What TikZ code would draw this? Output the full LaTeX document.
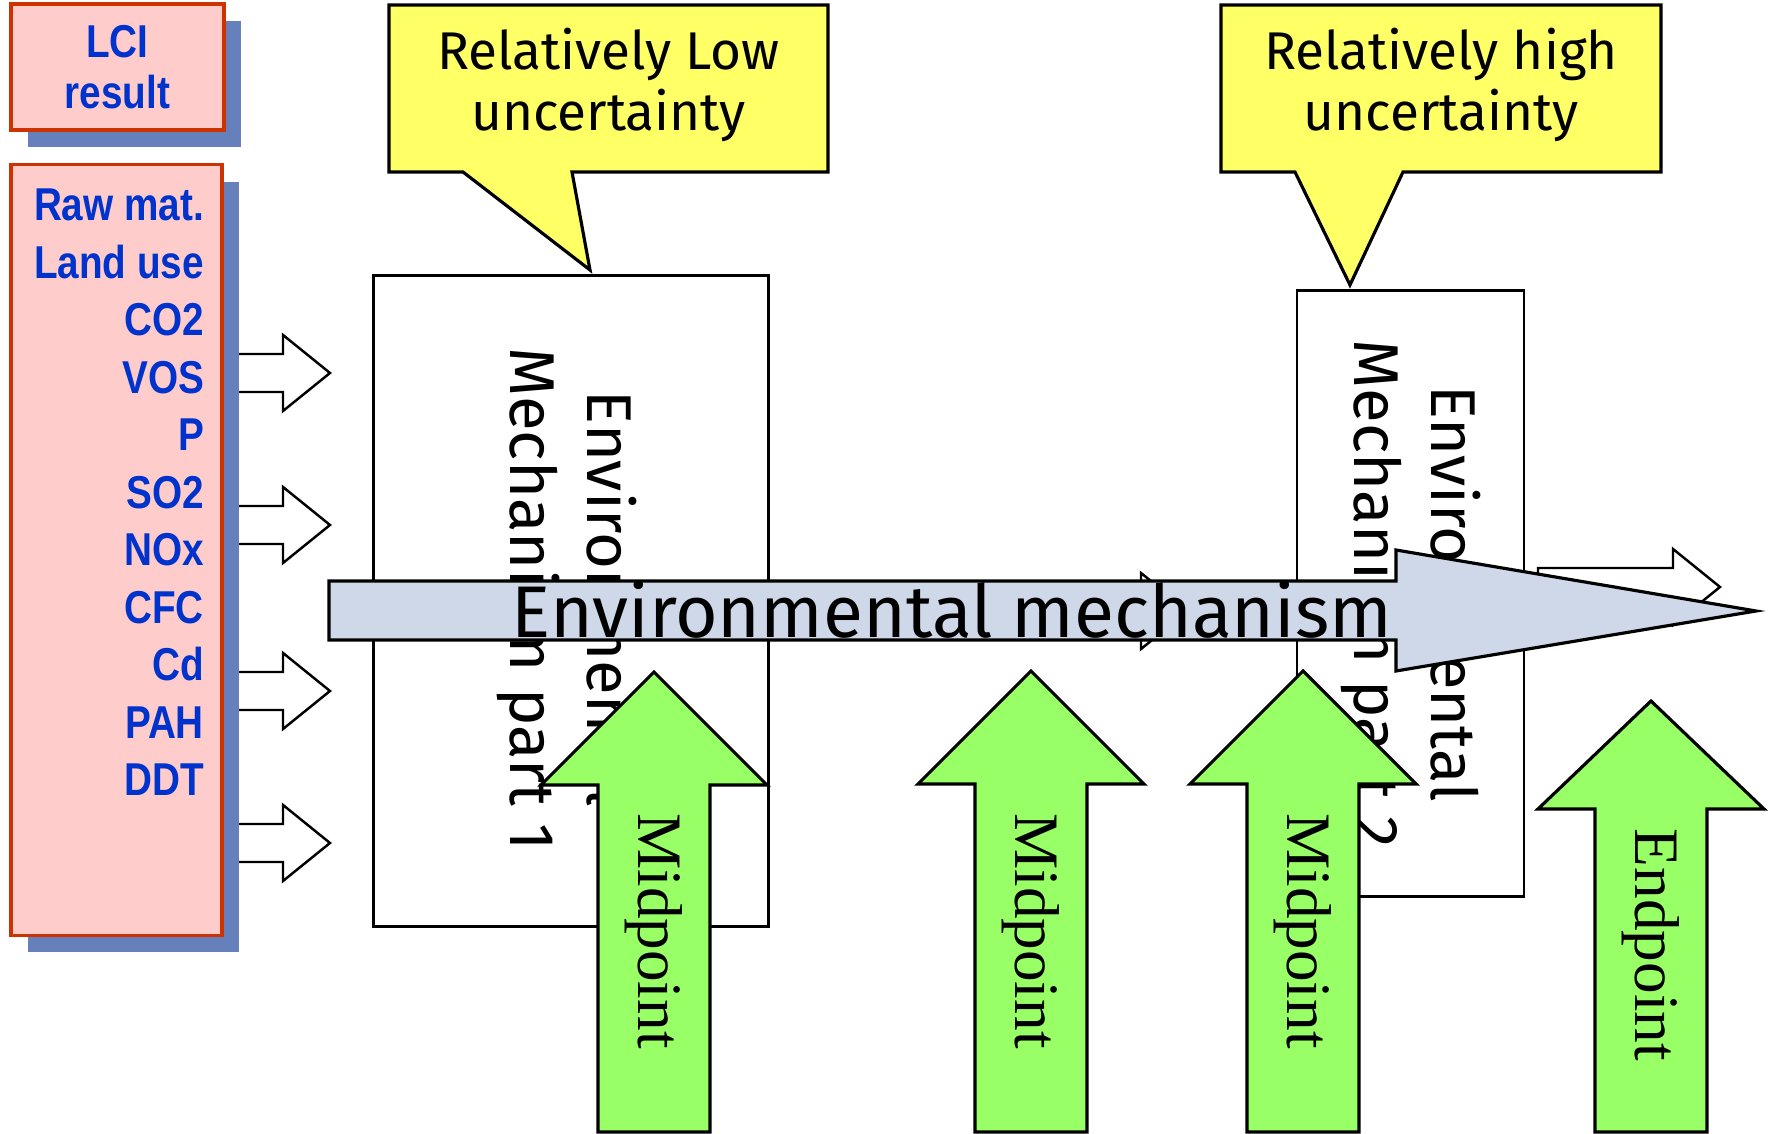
\documentclass[tikz,border=0pt]{standalone}
\usepackage{fontspec}
\setmainfont{Fira Sans}
\newfontfamily\lcifont{Liberation Sans}[FakeStretch=0.84]
\newfontfamily\pointfont{Liberation Serif}
\usetikzlibrary{shadows,positioning}

\definecolor{lcipink}{HTML}{FFCCCC}
\definecolor{lcired}{HTML}{CC3300}
\definecolor{lcishadow}{HTML}{6680BB}
\definecolor{lciblue}{HTML}{0033CC}
\definecolor{noteyellow}{HTML}{FFFF66}
\definecolor{mechgrey}{HTML}{CFD8E8}
\definecolor{pointgreen}{HTML}{99FF66}

% white block arrow: start x, tip x, centre y
\newcommand{\flowarrow}[3]{%
  \draw[flowshape] (#1,#3-19) -- (#2-47,#3-19) -- (#2-47,#3-38) -- (#2,#3)
    -- (#2-47,#3+38) -- (#2-47,#3+19) -- (#1,#3+19) -- cycle}
% green up arrow: centre x, tip y, head height
\newcommand{\pointarrow}[3]{%
  \draw[pointshape] (#1,#2) -- (#1+113,#2+#3) -- (#1+56,#2+#3) -- (#1+56,1132)
    -- (#1-56,1132) -- (#1-56,#2+#3) -- (#1-113,#2+#3) -- cycle}

\begin{document}
\begin{tikzpicture}
    [x=0.01cm, y=-0.01cm,
    lcibox/.style={draw=lcired, line width=0.9pt, fill=lcipink, inner sep=0pt,
        drop shadow={shadow xshift=0.17cm, shadow yshift=-0.17cm, fill=lcishadow, opacity=1}},
    lcitext/.style={font=\lcifont\bfseries\fontsize{13.1}{16.35}\selectfont, text=lciblue, inner sep=0pt},
    mechbox/.style={draw=black, line width=0.8pt, fill=white},
    mechtext/.style={rotate=-90, align=center, font=\fontsize{18}{21.9}\selectfont},
    notebubble/.style={draw=black, line width=0.9pt, fill=noteyellow},
    notetext/.style={align=center, font=\fontsize{15.1}{17.1}\selectfont},
    flowshape/.style={draw=black, line width=0.7pt, fill=white},
    mainshape/.style={draw=black, line width=0.9pt, fill=mechgrey},
    maintext/.style={font=\fontsize{20.8}{25}\selectfont, inner sep=0pt},
    pointshape/.style={draw=black, line width=0.9pt, fill=pointgreen},
    pointtext/.style={rotate=-90, font=\pointfont\fontsize{18}{22}\selectfont}]
    \useasboundingbox (0,0) rectangle (1771,1134);

    % flows out of the inventory
    \foreach \y in {373,525,691,843} {\flowarrow{230}{330}{\y};}
    \node[lcibox, lcitext, align=center, font=\lcifont\bfseries\fontsize{13.1}{14.5}\selectfont,
        minimum width=2.13cm, minimum height=1.26cm] (lci) at (117.5,67) {LCI\\result};
    \node[lcibox, minimum width=2.11cm, minimum height=7.70cm] (raw) at (116.5,550) {};
    \node[lcitext, align=right, below left=0.25cm and 0.19cm of raw.north east] (flows)
        {Raw mat.\\Land use\\CO2\\VOS\\P\\SO2\\NOx\\CFC\\Cd\\PAH\\DDT};

    % mechanism parts
    \node[mechbox, minimum width=3.94cm, minimum height=6.50cm] (mech1) at (571,601) {};
    \node[mechtext] (mech1text) at (567,599) {Environmental\\Mechanism part 1};
    \node[mechbox, minimum width=2.27cm, minimum height=6.05cm] (mech2) at (1410.5,593.5) {};
    \node[mechtext] (mech2text) at (mech2) {Environmental\\Mechanism part 2};
    \flowarrow{780}{1188}{611};
    \flowarrow{1538}{1720}{587};

    % uncertainty notes
    \draw[notebubble] (389,5) -- (828,5) -- (828,172) -- (572,172) -- (590,270)
        -- (463,172) -- (389,172) -- cycle;
    \node[notetext] (lownote) at (608.5,85) {Relatively Low\\uncertainty};
    \draw[notebubble] (1221,5) -- (1661,5) -- (1661,172) -- (1403,172) -- (1350,285)
        -- (1295,172) -- (1221,172) -- cycle;
    \node[notetext] (highnote) at (1441,85) {Relatively high\\uncertainty};

    \draw[mainshape] (329,581) -- (1396,581) -- (1396,550) -- (1756,611) -- (1396,671)
        -- (1396,640) -- (329,640) -- cycle;
    \node[maintext, anchor=base] (mechanism) at (952,638) {Environmental mechanism};

    % indicators
    \foreach \x/\y in {654/672, 1031/671, 1303/671} {\pointarrow{\x}{\y}{113};}
    \pointarrow{1651}{701}{108};
    \foreach \x [count=\i] in {654,1031,1303}
        \node[pointtext] (mid\i) at (\x,931) {Midpoint};
    \node[pointtext] (end) at (1651,945) {Endpoint};
\end{tikzpicture}
\end{document}
